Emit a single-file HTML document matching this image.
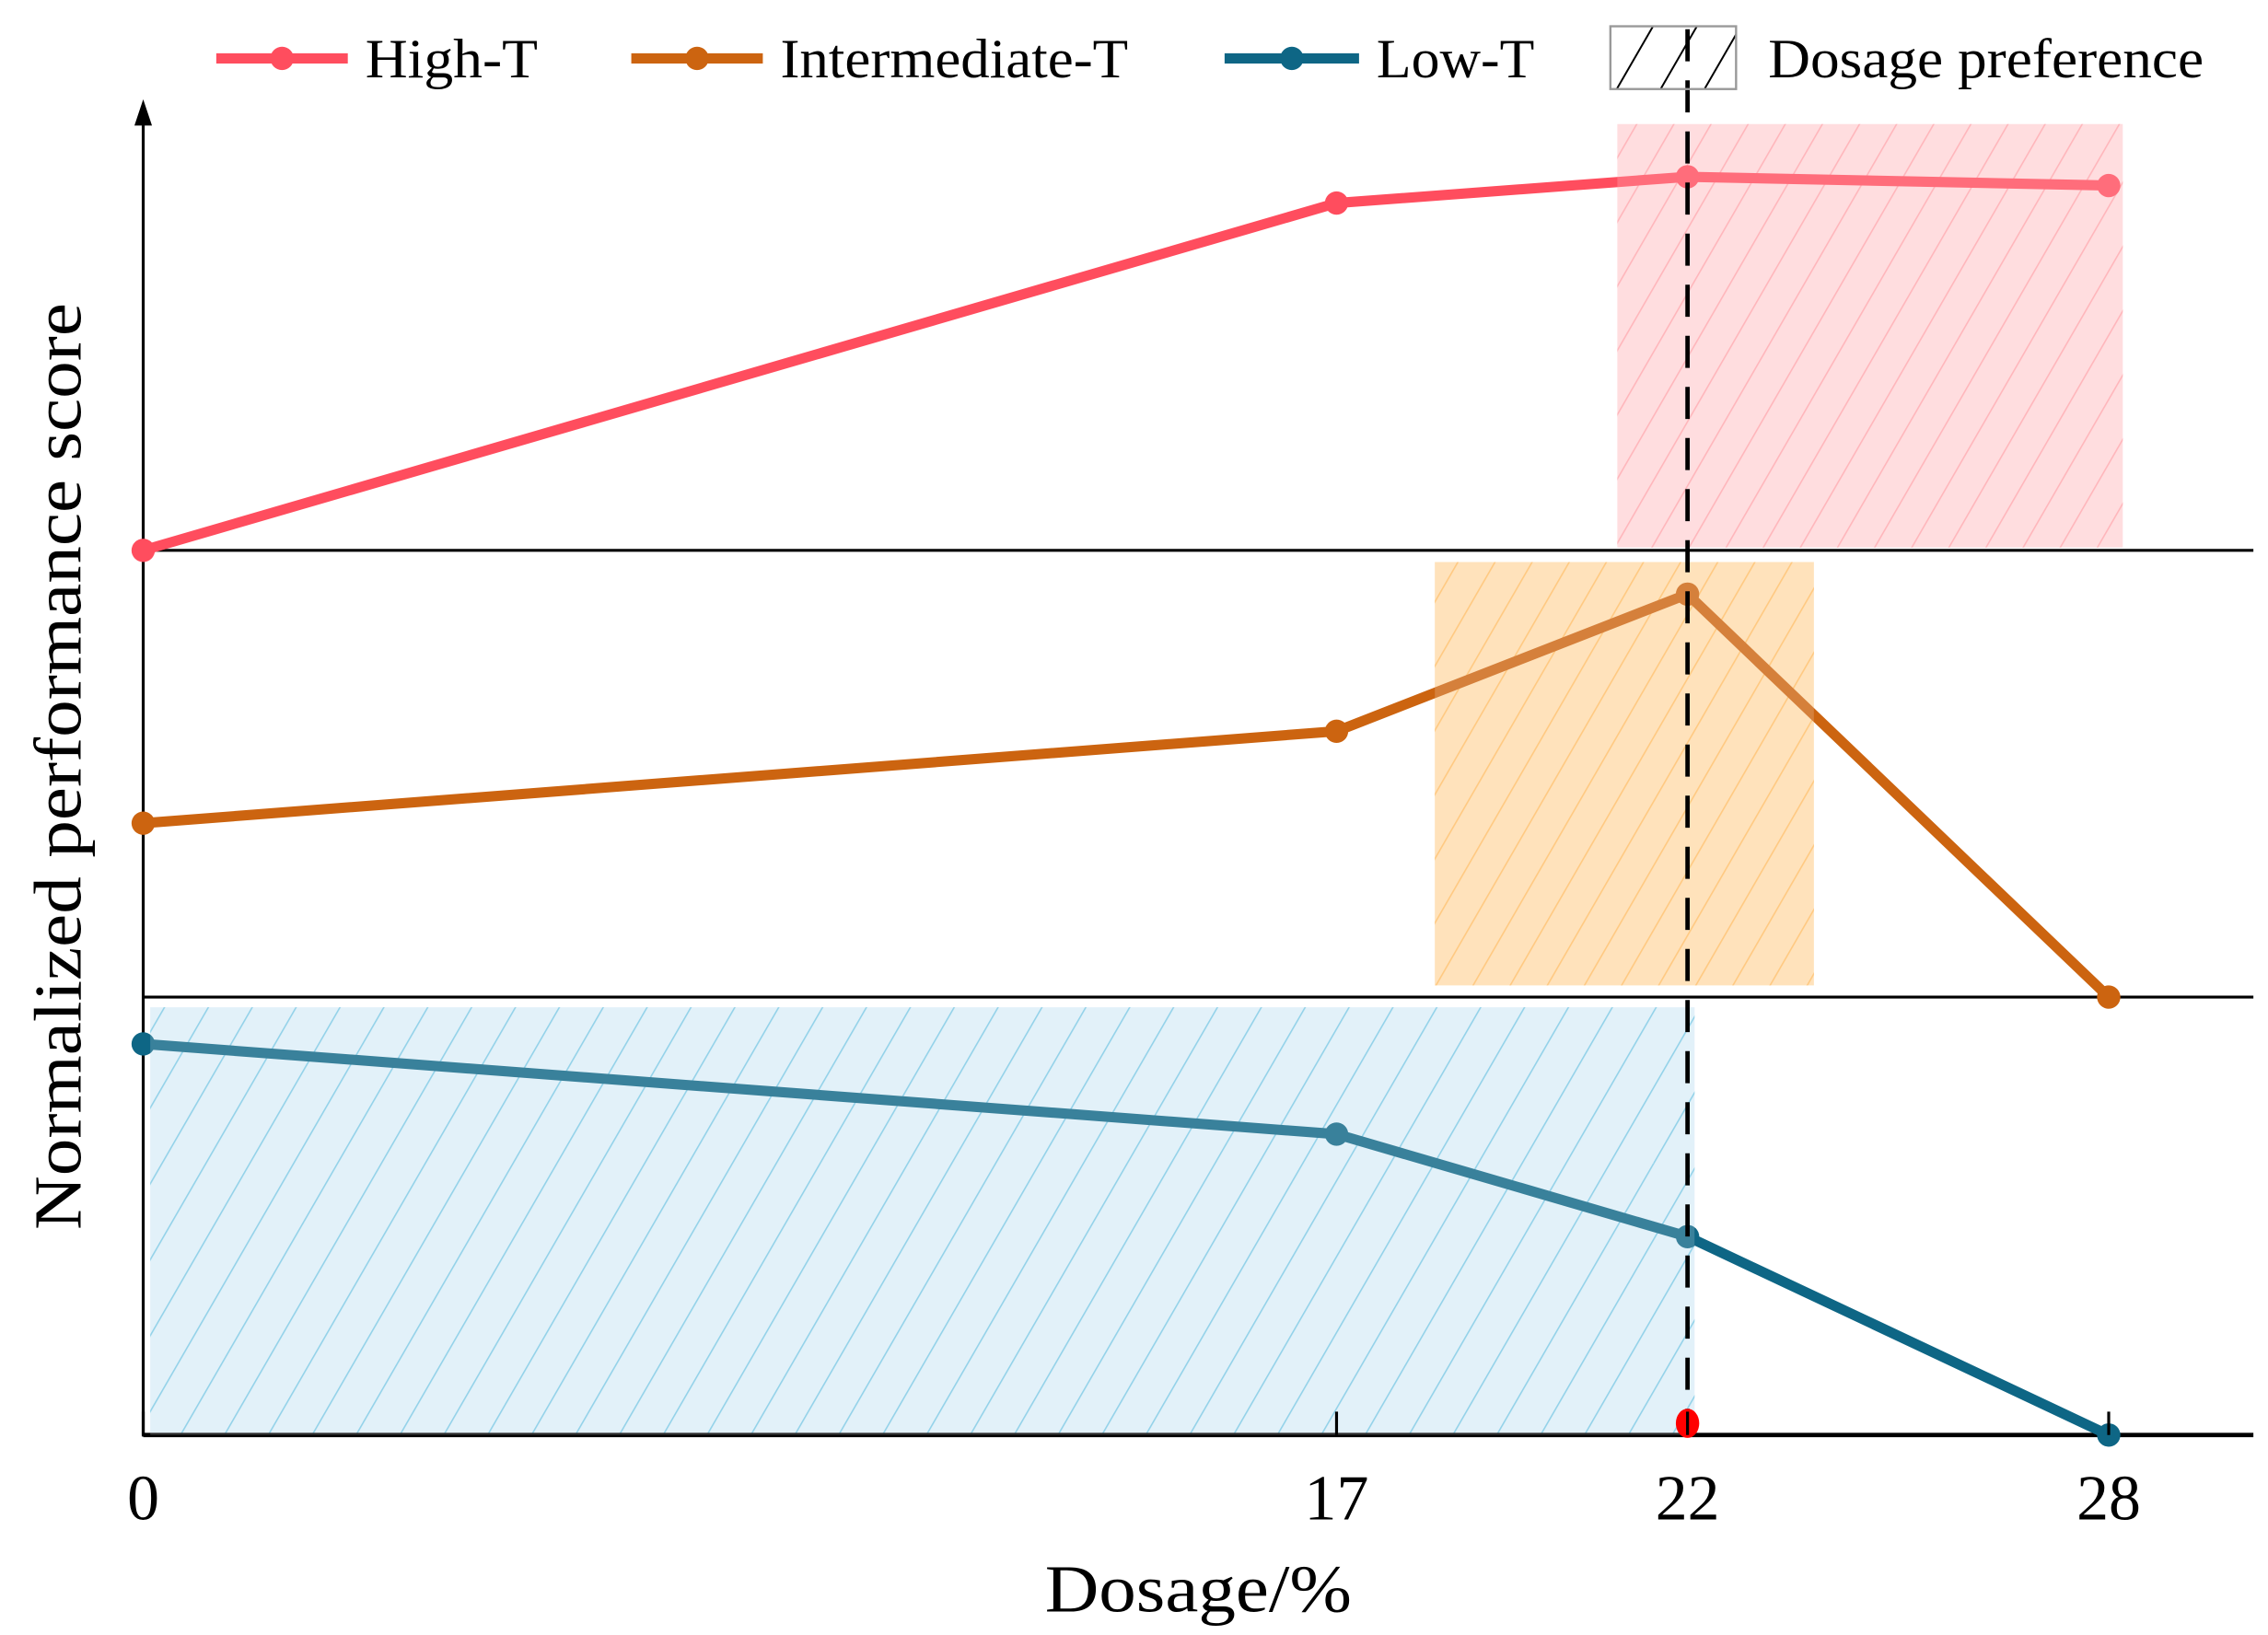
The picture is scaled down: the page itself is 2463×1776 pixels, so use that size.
<!DOCTYPE html>
<html><head><meta charset="utf-8"><style>
html,body{margin:0;padding:0;background:#fff;}
svg{display:block;font-family:"Liberation Serif",serif;}
</style></head><body>
<svg id="chart" width="2463" height="1776" viewBox="0 0 1552 1120" preserveAspectRatio="none" xmlns="http://www.w3.org/2000/svg">
<defs>
<pattern id="hatchRed" patternUnits="userSpaceOnUse" width="22" height="22" patternTransform="rotate(30)">
<line x1="0" y1="0" x2="0" y2="22" stroke="#ffa6ad" stroke-width="2"/></pattern>
<pattern id="hatchOrange" patternUnits="userSpaceOnUse" width="22" height="22" patternTransform="rotate(30)">
<line x1="0" y1="0" x2="0" y2="22" stroke="#ffbd66" stroke-width="2"/></pattern>
<pattern id="hatchBlue" patternUnits="userSpaceOnUse" width="26" height="26" patternTransform="rotate(30)">
<line x1="0" y1="0" x2="0" y2="26" stroke="#7cc8e4" stroke-width="2"/></pattern>
<pattern id="hatchLegend" patternUnits="userSpaceOnUse" width="26" height="26" patternTransform="rotate(30)">
<line x1="0" y1="0" x2="0" y2="26" stroke="#000" stroke-width="2.5"/></pattern>
</defs>
<g id="plot"></g>
</svg>
<script>
const categories = [0, 17, 22, 28];
const highT = [0, 0.793, 0.853, 0.833];
const intermediateT = [0.397, 0.607, 0.92, 0];
const lowT = [0.893, 0.687, 0.453, 0];
const tickLabels = ["0", "17", "22", "28"];
const preferredDosage = 22;
const highRange = [21, 28.2];
const interRange = [18.4, 23.8];
const lowRange = [0.1, 22.1];

const NS = "http://www.w3.org/2000/svg";
const g = document.getElementById("plot");
const x0 = 98, xUnit = (1443 - 98) / 28;
function xs(v){ return x0 + v * xUnit; }
const panelBottoms = [377, 683, 983];
const panelH = 300;
function ys(panel, v){ return panelBottoms[panel] - v * panelH; }

function el(tag, attrs, parent){
  const e = document.createElementNS(NS, tag);
  for (const k in attrs) e.setAttribute(k, attrs[k]);
  (parent || g).appendChild(e);
  return e;
}

const regions = [
  {r: highRange, y1: 85, y2: 375, fill: "#ffd6d8", pat: "url(#hatchRed)", name: "high-t-preference-region"},
  {r: interRange, y1: 385, y2: 675, fill: "#ffdcac", pat: "url(#hatchOrange)", name: "intermediate-t-preference-region"},
  {r: lowRange, y1: 690, y2: 983, fill: "#dceef8", pat: "url(#hatchBlue)", name: "low-t-preference-region"}
];
regions.forEach(rg => {
  const a = el("rect", {x: xs(rg.r[0]), y: rg.y1, width: xs(rg.r[1]) - xs(rg.r[0]), height: rg.y2 - rg.y1, fill: rg.fill});
  
  
  const b = el("rect", {x: xs(rg.r[0]), y: rg.y1, width: xs(rg.r[1]) - xs(rg.r[0]), height: rg.y2 - rg.y1, fill: rg.pat});
  
  
});

const yAxis = el("line", {x1: x0, y1: 80, x2: x0, y2: 984, stroke: "#000", "stroke-width": 2});


const arrow = el("path", {d: "M92 86 L98 68 L104 86 Z", fill: "#000"});


const xAxis = el("line", {x1: x0, y1: 983, x2: 1542, y2: 983, stroke: "#000", "stroke-width": 3});


[377, 683].forEach((y, i) => {
  const d = el("line", {x1: x0, y1: y, x2: 1542, y2: y, stroke: "#000", "stroke-width": 2});
  
  
});

const series = [
  {vals: highT, panel: 0, color: "#ff4d5e", name: "high-t"},
  {vals: intermediateT, panel: 1, color: "#cc6410", name: "intermediate-t"},
  {vals: lowT, panel: 2, color: "#0e6685", name: "low-t"}
];
series.forEach(s => {
  const pts = s.vals.map((v, i) => xs(categories[i]) + "," + ys(s.panel, v)).join(" ");
  const pl = el("polyline", {points: pts, fill: "none", stroke: s.color, "stroke-width": 7, "stroke-linejoin": "round"});
  
  
  s.vals.forEach((v, i) => {
    const c = el("circle", {cx: xs(categories[i]), cy: ys(s.panel, v), r: 8, fill: s.color});
    
    
  });
});
regions.forEach(rg => {
  const o = el("rect", {x: xs(rg.r[0]), y: rg.y1, width: xs(rg.r[1]) - xs(rg.r[0]), height: rg.y2 - rg.y1, fill: "#ffffff", opacity: 0.18});
  
  
});

const dl = el("line", {x1: xs(preferredDosage), y1: 20, x2: xs(preferredDosage), y2: 983, stroke: "#000", "stroke-width": 3, "stroke-dasharray": "22,13"});


const rd = el("ellipse", {cx: xs(preferredDosage), cy: 975, rx: 8, ry: 10, fill: "#ff0000"});



categories.forEach((c, i) => {
  const t = el("line", {x1: xs(c), y1: 967, x2: xs(c), y2: 983, stroke: "#000", "stroke-width": 2});
  
  
  const tx = el("text", {x: xs(c), y: 1041, "font-size": 44, "text-anchor": "middle", fill: "#000"});
  tx.textContent = tickLabels[i];
  
  
});

const xt = el("text", {x: 820, y: 1104, "font-size": 46, "text-anchor": "middle", fill: "#000", textLength: 210, lengthAdjust: "spacingAndGlyphs"});
xt.textContent = "Dosage/%";


const yt = el("text", {x: 0, y: 0, "font-size": 46, "text-anchor": "middle", fill: "#000", transform: "translate(55,525) rotate(-90)", textLength: 635, lengthAdjust: "spacingAndGlyphs"});
yt.textContent = "Normalized performance score";



const legend = [
  {x1: 148, x2: 238, tx: 250, tw: 118, color: "#ff4d5e", label: "High-T", name: "legend-high-t"},
  {x1: 432, x2: 522, tx: 534, tw: 238, color: "#cc6410", label: "Intermediate-T", name: "legend-intermediate-t"},
  {x1: 838, x2: 930, tx: 942, tw: 108, color: "#0e6685", label: "Low-T", name: "legend-low-t"}
];
legend.forEach(L => {
  const l = el("line", {x1: L.x1, y1: 40, x2: L.x2, y2: 40, stroke: L.color, "stroke-width": 7});
  
  
  const c = el("circle", {cx: (L.x1 + L.x2) / 2, cy: 40, r: 8, fill: L.color});
  
  
  const t = el("text", {x: L.tx, y: 53, "font-size": 38, fill: "#000", textLength: L.tw, lengthAdjust: "spacingAndGlyphs"});
  t.textContent = L.label;
  
  
});
const hb = el("rect", {x: 1102, y: 18, width: 86, height: 43, fill: "url(#hatchLegend)", stroke: "#999", "stroke-width": 1.5});


const ht = el("text", {x: 1210, y: 53, "font-size": 38, fill: "#000", textLength: 298, lengthAdjust: "spacingAndGlyphs"});
ht.textContent = "Dosage preference";


</script>
</body></html>
